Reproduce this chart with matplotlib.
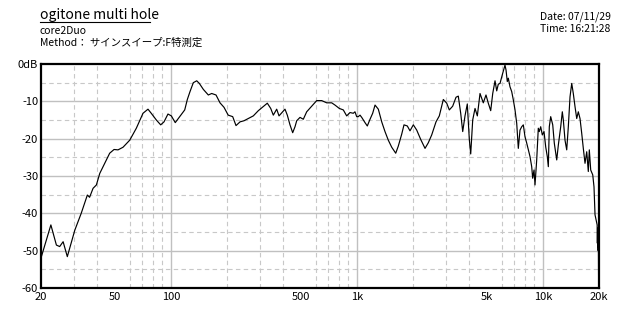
import numpy as np
import matplotlib
matplotlib.use("Agg")
import matplotlib.pyplot as plt
from matplotlib.lines import Line2D
from matplotlib.ticker import FixedLocator, NullFormatter

plt.rcParams['font.family'] = ['Noto Sans CJK JP', 'DejaVu Sans']

# --- Chart text ---
TITLE = "ogitone multi hole"
SUBTITLE = "core2Duo"
METHOD = "Method： サインスイープ:F特測定"
DATE = "Date: 07/11/29"
TIME = "Time: 16:21:28"

# --- Axes ---
X_TICKS = [20, 50, 100, 500, 1000, 5000, 10000, 20000]
X_LABELS = ["20", "50", "100", "500", "1k", "5k", "10k", "20k"]
Y_TICKS = [0, -10, -20, -30, -40, -50, -60]
Y_LABELS = ["0dB", "-10", "-20", "-30", "-40", "-50", "-60"]

# --- Response curve ---
freq = [
    20.1, 22.6, 24.2, 25.2, 26.3, 27.7, 30.4, 32.9, 35.5, 36.5, 38.1, 39.7,
    41.4, 44.0, 46.8, 49.4, 51.9, 55.2, 60.0, 65.1, 70.7, 75.2, 78.3, 83.4,
    88.0, 91.7, 96.3, 100.4, 105.4, 111.4, 118.5, 122.4,
    126.5, 131.8, 137.5, 142, 149.2, 158.7, 165.5, 174.6, 183.4, 192.7, 203,
    214.6, 223.6, 235, 246.9, 260.4, 277, 294.8, 313.5, 329.4, 343.6, 354.8,
    370, 380.8, 398.6, 410, 422, 436.2, 451, 464.2, 474, 493.8, 514.4, 536.4,
    570.8, 607.4, 645.8, 687.2, 731, 761.4, 803.2, 844, 880,
    917, 955, 975, 996, 1016, 1038, 1060, 1104, 1136, 1175, 1214, 1250, 1302,
    1358, 1414, 1473, 1537, 1615, 1667, 1739, 1789, 1864, 1927, 2008, 2094,
    2200, 2321, 2417, 2521, 2659, 2770, 2911, 3036, 3135, 3269, 3407, 3504,
    3610, 3701, 3807, 3917, 4016, 4086, 4188, 4310, 4435,
    4585, 4775, 4937, 5080, 5234, 5366, 5521, 5638, 5750,
    5872, 6070, 6246, 6326, 6427, 6508, 6645, 6788, 6924, 7071, 7222, 7366,
    7522, 7683, 7837, 8003, 8174, 8338, 8514, 8694, 8800, 8946, 9057, 9249,
    9434, 9552, 9719, 9914, 10125, 10340, 10546, 10680, 10810, 11000, 11280,
    11500, 11850, 12090, 12450, 12700, 12860, 13130, 13410, 13680, 13970,
    14270, 14550, 14860, 15180, 15480, 15810, 16150, 16470, 16820, 17180,
    17520, 17740, 18050, 18510, 18800, 19040, 19300, 19550, 19600, 19650,
    19700, 19750, 19800, 19850, 19900,
]
level = [
    -51.6, -43.1, -48.5, -48.9, -47.6, -51.6, -44.5, -40.0, -35.1, -35.7, -33.3, -32.4,
    -29.3, -26.6, -23.9, -22.9, -23.0, -22.3, -20.4, -17.2, -13.2, -12.1, -13.2, -15.0,
    -16.3, -15.5, -13.4, -13.9, -15.7, -14.1, -12.3, -9.5,
    -7.4, -5.0, -4.5, -5.2, -6.8, -8.3, -7.9, -8.3, -10.4, -11.6, -13.7,
    -14.1, -16.5, -15.5, -15.2, -14.6, -13.9, -12.5, -11.4, -10.5, -11.9, -13.7,
    -12.1, -13.9, -12.8, -12.1, -13.7, -16.3, -18.4, -16.8, -15.2, -14.3, -14.8, -12.8,
    -11.3, -9.8, -9.8, -10.4, -10.4, -11.0, -11.9, -12.3, -13.9,
    -13.0, -13.2, -12.8, -14.1, -14.1, -13.7, -14.3, -15.7, -16.6, -14.8, -13.2, -11.0, -12.1,
    -15.5, -18.1, -20.4, -22.3, -23.9, -22.0, -18.8, -16.3, -16.6, -17.9, -16.3, -17.7,
    -20.2, -22.6, -21.1, -19.0, -15.5, -13.9, -9.5, -10.5, -12.3, -11.3, -8.9, -8.6,
    -13.2, -18.1, -13.9, -10.7, -20.2, -24.1, -15.0, -11.9, -13.9,
    -7.9, -10.4, -8.3, -10.5, -12.5, -7.9, -4.5, -7.2, -5.4,
    -5.2, -2.5, -0.3, -1.6, -4.7, -3.8, -6.1, -7.4, -9.6, -12.3, -15.9, -22.6,
    -17.7, -16.8, -16.3, -19.5, -21.2, -23.0, -24.8, -27.5, -30.6, -28.4, -32.4, -25.7,
    -17.2, -18.1, -16.8, -19.0, -18.1, -22.2, -24.8, -27.5, -16.8, -14.1, -16.3,
    -21.2, -25.7, -21.7, -16.8, -12.8, -15.0, -20.4, -23.0, -16.8, -8.8,
    -5.2, -7.9, -11.4, -14.6, -12.8, -14.6, -18.6, -22.6, -26.6, -23.5,
    -28.8, -23.0, -28.4, -29.7, -32.9, -40.4, -41.8, -43.1, -48.0, -44.0,
    -49.0, -45.0, -50.0, -46.0, -57.0,
]

fig = plt.figure(figsize=(6.4, 3.2), dpi=100)
ax = fig.add_axes([41 / 640, 32 / 320, 558 / 640, 224 / 320])

ax.plot(freq, level, color="black", linewidth=0.85)

ax.set_xscale("log")
ax.set_xlim(20, 20000)
ax.set_ylim(-60, 0)

# grid: solid at decades / every 10 dB, dashed in between
minor_x = [f * m for f in (10, 100, 1000, 10000) for m in range(2, 10)
           if 20 < f * m < 20000]
ax.xaxis.set_minor_locator(FixedLocator(minor_x))
ax.xaxis.set_minor_formatter(NullFormatter())
ax.yaxis.set_minor_locator(FixedLocator([-55, -45, -35, -25, -15, -5]))
for d in (100, 1000, 10000):
    ax.axvline(d, color="#c0c0c0", linewidth=1.0, zorder=0)
for y in Y_TICKS[1:-1]:
    ax.axhline(y, color="#c0c0c0", linewidth=1.0, zorder=0)
ax.grid(True, which="minor", axis="both", color="#c8c8c8",
        linestyle=(0, (4, 3)), linewidth=0.8, zorder=0)

ax.set_xticks(X_TICKS)
ax.set_xticklabels(X_LABELS)
ax.set_yticks(Y_TICKS)
ax.set_yticklabels(Y_LABELS)
ax.tick_params(axis="both", which="both", length=0, labelsize=8, pad=2)
ax.tick_params(axis="x", pad=3)

for s in ax.spines.values():
    s.set_linewidth(1.6)
    s.set_color("black")

# header text
fig.text(40 / 640, 1 - 15 / 320, TITLE, fontsize=10, va="center", ha="left")
fig.lines.append(Line2D([40 / 640, 150 / 640], [1 - 22 / 320, 1 - 22 / 320],
                        color="black", linewidth=0.8, transform=fig.transFigure))
fig.text(40 / 640, 1 - 31 / 320, SUBTITLE, fontsize=7.5, va="center", ha="left")
fig.text(40 / 640, 1 - 43 / 320, METHOD, fontsize=7.5, va="center", ha="left")
fig.text(540 / 640, 1 - 17 / 320, DATE, fontsize=7.5, va="center", ha="left")
fig.text(540 / 640, 1 - 29 / 320, TIME, fontsize=7.5, va="center", ha="left")

fig.savefig("out.png", dpi=100, facecolor="white")
